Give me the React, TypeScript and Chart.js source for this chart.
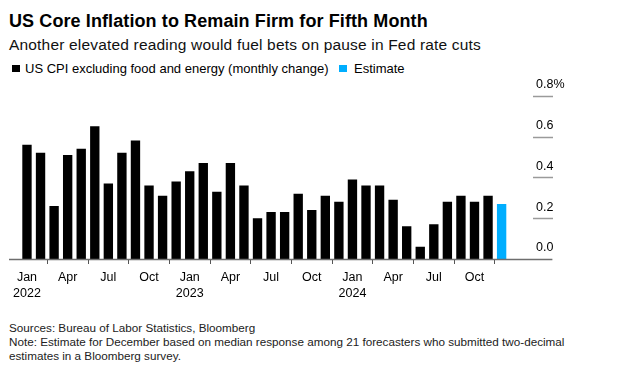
import React, { useEffect, useRef } from "react";
import { Chart, registerables } from "chart.js";

Chart.register(...registerables);

const FONT = '"Liberation Sans", Arial, Helvetica, sans-serif';

// Monthly categories Jan 2022 .. Dec 2024
const monthNames = ["Jan", "Feb", "Mar", "Apr", "May", "Jun", "Jul", "Aug", "Sep", "Oct", "Nov", "Dec"];
const years = [2022, 2023, 2024];
const categories: string[] = years.flatMap((y) => monthNames.map((m) => `${m} ${y}`));

// US CPI excluding food and energy, monthly % change
const coreCpi: (number | null)[] = [
  0.56, 0.52, 0.26, 0.51, 0.54, 0.65, 0.37, 0.52, 0.58, 0.36, 0.31, 0.38,
  0.43, 0.47, 0.33, 0.47, 0.36, 0.2, 0.23, 0.23, 0.32, 0.24, 0.31, 0.28,
  0.39, 0.36, 0.36, 0.29, 0.16, 0.06, 0.17, 0.28, 0.31, 0.28, 0.31, null,
];

// Estimate for December 2024
const estimate: (number | null)[] = [
  null, null, null, null, null, null, null, null, null, null, null, null,
  null, null, null, null, null, null, null, null, null, null, null, null,
  null, null, null, null, null, null, null, null, null, null, null, 0.27,
];

const quarterMonths = ["Jan", "Apr", "Jul", "Oct"];
const yTicks = [0, 0.2, 0.4, 0.6, 0.8];

const axisDecor = {
  id: "axisDecor",
  afterDatasetsDraw(chart: any) {
    const { ctx, chartArea, scales } = chart;
    const y = scales.y;
    ctx.save();
    // short gray tick marks under y labels
    ctx.strokeStyle = "#9a9a9a";
    ctx.lineWidth = 1.5;
    y.ticks.forEach((t: any) => {
      if (t.value === 0) return;
      const py = Math.round(y.getPixelForValue(t.value)) + 0.5;
      ctx.beginPath();
      ctx.moveTo(chartArea.right + 24.6, py);
      ctx.lineTo(chartArea.right + 44.6, py);
      ctx.stroke();
    });
    // baseline
    const zy = Math.round(y.getPixelForValue(0)) + 0.5;
    ctx.strokeStyle = "#6e6e6e";
    ctx.lineWidth = 1.5;
    ctx.beginPath();
    ctx.moveTo(9, zy);
    ctx.lineTo(chartArea.right + 44, zy);
    ctx.stroke();
    ctx.restore();
  },
};

function BarChart() {
  const ref = useRef<HTMLCanvasElement | null>(null);
  useEffect(() => {
    if (!ref.current) return;
    const chart = new Chart(ref.current, {
      type: "bar",
      data: {
        labels: categories,
        datasets: [
          {
            label: "US CPI excluding food and energy (monthly change)",
            data: coreCpi,
            backgroundColor: "#000000",
            categoryPercentage: 1,
            barPercentage: 0.69,
          },
          {
            label: "Estimate",
            data: estimate,
            backgroundColor: "#00AEFF",
            categoryPercentage: 1,
            barPercentage: 0.69,
          },
        ],
      },
      options: {
        responsive: false,
        animation: false,
        layout: { padding: { left: 20.2, top: 20.7, right: 0, bottom: 0 } },
        plugins: {
          legend: { display: false },
          tooltip: { enabled: false },
          title: { display: false },
        },
        scales: {
          x: {
            stacked: true,
            afterFit: (s: any) => {
              s.height = 46;
            },
            border: { display: false },
            grid: {
              display: true,
              drawOnChartArea: false,
              drawTicks: true,
              tickLength: 5,
              color: "#555",
              lineWidth: 1,
            },
            ticks: {
              autoSkip: false,
              maxRotation: 0,
              minRotation: 0,
              padding: 6,
              color: "#000",
              font: { family: FONT, size: 12.5, lineHeight: 1.25 },
              callback: (_v: any, i: number) => {
                const [m, y] = categories[i].split(" ");
                if (!quarterMonths.includes(m)) return null;
                return m === "Jan" ? [m, y] : m;
              },
            },
          },
          y: {
            stacked: true,
            position: "right",
            min: 0,
            max: 0.8,
            afterFit: (s: any) => {
              s.width = 132.6;
              s.paddingTop = 0;
              s.paddingBottom = 0;
            },
            afterBuildTicks: (s: any) => {
              s.ticks = yTicks.map((v) => ({ value: v }));
            },
            border: { display: false },
            grid: { display: false, drawTicks: false },
            ticks: {
              padding: 27.6,
              labelOffset: -11,
              color: "#000",
              crossAlign: "near",
              font: { family: FONT, size: 12.5 },
              callback: (v: any) => (Math.abs(v - 0.8) < 1e-9 ? "0.8%" : Number(v).toFixed(1)),
            },
          },
        },
      },
      plugins: [axisDecor],
    });
    return () => chart.destroy();
  }, []);
  return (
    <canvas
      ref={ref}
      width={641}
      height={230}
      style={{ position: "absolute", left: 0, top: 75, width: 641, height: 230 }}
    />
  );
}

export default function App() {
  const text: React.CSSProperties = { position: "absolute", whiteSpace: "nowrap", fontFamily: FONT, color: "#000" };
  return (
    <div style={{ position: "absolute", left: 0, top: 0, width: 641, height: 372, background: "#fff", overflow: "hidden" }}>
      <div style={{ ...text, left: 9, top: 12, fontSize: 18, lineHeight: "18px", fontWeight: 700, letterSpacing: 0.1 }}>
        US Core Inflation to Remain Firm for Fifth Month
      </div>
      <div style={{ ...text, left: 9, top: 36.6, fontSize: 15.5, lineHeight: "15.5px", color: "#111", letterSpacing: 0.18 }}>
        Another elevated reading would fuel bets on pause in Fed rate cuts
      </div>
      <span style={{ position: "absolute", left: 12, top: 64.5, width: 7.5, height: 7.5, background: "#000" }} />
      <div style={{ ...text, left: 25, top: 62, fontSize: 13, lineHeight: "13px" }}>
        US CPI excluding food and energy (monthly change)
      </div>
      <span style={{ position: "absolute", left: 339.3, top: 64.5, width: 7.5, height: 7.5, background: "#00AEFF" }} />
      <div style={{ ...text, left: 354, top: 62, fontSize: 13, lineHeight: "13px" }}>Estimate</div>
      <BarChart />
      <div style={{ ...text, left: 9, top: 321, fontSize: 11.7, lineHeight: "14px", color: "#222" }}>
        <div>Sources: Bureau of Labor Statistics, Bloomberg</div>
        <div>Note: Estimate for December based on median response among 21 forecasters who submitted two-decimal</div>
        <div>estimates in a Bloomberg survey.</div>
      </div>
    </div>
  );
}
